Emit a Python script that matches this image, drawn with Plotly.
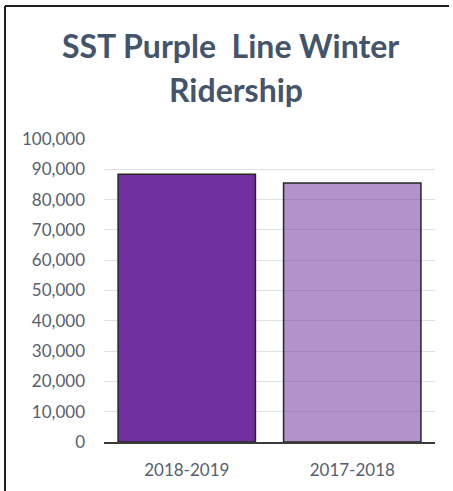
import plotly.graph_objects as go

categories = ["2018-2019", "2017-2018"]
ridership = [88400, 85500]
bar_colors = ["#7030A0", "rgba(112,48,160,0.52)"]
y_ticks = list(range(0, 100001, 10000))
title_lines = ["SST Purple\u00a0 Line Winter", "Ridership"]

W, H = 453, 491
L, R, T, B = 104, 18, 139, 49
pw, ph = W - L - R, H - T - B

def px_x(x):
    return (x - L) / pw

def px_y(y):
    return (H - B - y) / ph

fig = go.Figure()
fig.add_trace(go.Bar(
    x=categories, y=ridership,
    marker=dict(color=bar_colors, line=dict(color="#262626", width=1.5)),
    width=0.83,
))

fig.update_layout(
    width=W, height=H,
    margin=dict(l=L, r=R, t=T, b=B),
    paper_bgcolor="white", plot_bgcolor="white",
    showlegend=False,
    font=dict(family="Lato", size=17, color="#56606E"),
    xaxis=dict(showline=True, linecolor="#3A3A3A", linewidth=1.5,
               ticks="", ticklabelstandoff=12, showgrid=False,
               tickfont=dict(family="Lato", size=17, color="#56606E")),
    yaxis=dict(range=[0, 100000], tickvals=y_ticks, tickformat=",",
               showgrid=True, gridcolor="#DDE1E8", gridwidth=1,
               zeroline=False, showline=False, ticks="",
               ticklabelstandoff=18,
               tickfont=dict(family="Lato", size=17, color="#56606E")),
)

# title lines
fig.add_annotation(text=title_lines[0], x=px_x(230), y=px_y(45), xref="paper", yref="paper",
                   showarrow=False, xanchor="center", yanchor="middle",
                   font=dict(family="Lato", size=32, color="#44546A", weight="bold"))
fig.add_annotation(text=title_lines[1], x=px_x(236), y=px_y(90), xref="paper", yref="paper",
                   showarrow=False, xanchor="center", yanchor="middle",
                   font=dict(family="Lato", size=32, color="#44546A", weight="bold"))

# outer frame (left and top edges visible)
fig.add_shape(type="line", xref="paper", yref="paper",
              x0=px_x(5), x1=px_x(5), y0=px_y(6), y1=px_y(491),
              line=dict(color="#1E1E1E", width=2))
fig.add_shape(type="line", xref="paper", yref="paper",
              x0=px_x(5), x1=px_x(449), y0=px_y(6), y1=px_y(6),
              line=dict(color="#1E1E1E", width=2))

fig.write_html("out.html", config={"displayModeBar": False},
               post_script="document.body.style.margin='0';document.body.style.overflow='hidden';")
